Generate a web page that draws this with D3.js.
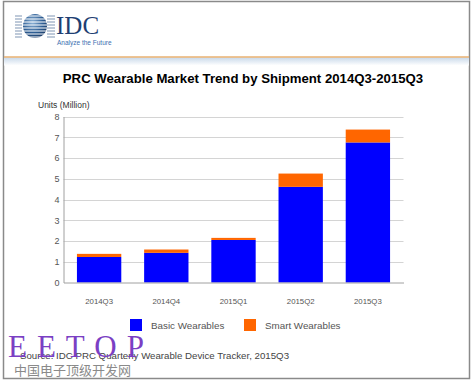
<!DOCTYPE html>
<html><head><meta charset="utf-8">
<script src="https://cdn.jsdelivr.net/npm/d3@7"></script>
<style>body{margin:0;background:#fff}svg{display:block}</style>
</head><body>
<script>
const categories = ["2014Q3","2014Q4","2015Q1","2015Q2","2015Q3"];
const basicWearables = [1.23, 1.43, 2.05, 4.61, 6.75];
const smartWearables = [0.15, 0.16, 0.10, 0.64, 0.62];
const seriesNames = ["Basic Wearables","Smart Wearables"];
const seriesColors = ["#0000ff","#ff6600"];
const yTicks = [0,1,2,3,4,5,6,7,8];

(function(){
const W=475,H=382;
const svg=d3.select("body").append("svg").attr("width",W).attr("height",H);

const defs=svg.append("defs");
const g1=defs.append("linearGradient").attr("id","band").attr("x1",0).attr("y1",0).attr("x2",0).attr("y2",1);
g1.append("stop").attr("offset","0").attr("stop-color","#c9d9ea");
g1.append("stop").attr("offset","1").attr("stop-color","#ffffff");
const g2=defs.append("radialGradient").attr("id","globe").attr("cx","0.4").attr("cy","0.35").attr("r","0.7");
g2.append("stop").attr("offset","0").attr("stop-color","#8fb4d8");
g2.append("stop").attr("offset","0.6").attr("stop-color","#2f5f95");
g2.append("stop").attr("offset","1").attr("stop-color","#1c3b66");

svg.append("rect").attr("x",3.5).attr("y",1.5).attr("width",466).attr("height",377).attr("fill","#fff").attr("stroke","#8a8a8a").attr("stroke-width",1.5);
svg.append("rect").attr("x",4).attr("y",57.5).attr("width",465).attr("height",8).attr("fill","url(#band)");
svg.append("line").attr("x1",4).attr("x2",469).attr("y1",57).attr("y2",57).attr("stroke","#e8b070").attr("stroke-width",1.5);

const logo=svg.append("g");
logo.append("circle").attr("cx",35).attr("cy",26).attr("r",12).attr("fill","url(#globe)");
const stripes=[16,19,22,25,28,31,34,37];
logo.selectAll("line.s").data(stripes).join("line").attr("x1",17).attr("x2",53)
 .attr("y1",d=>d).attr("y2",d=>d).attr("stroke","#fff").attr("stroke-width",1.2);
logo.selectAll("line.t").data(stripes).join("line").attr("x1",15).attr("x2",22).attr("y1",d=>d).attr("y2",d=>d).attr("stroke","#7e95b3").attr("stroke-width",1);
logo.selectAll("line.u").data(stripes).join("line").attr("x1",47).attr("x2",55).attr("y1",d=>d).attr("y2",d=>d).attr("stroke","#7e95b3").attr("stroke-width",1);
svg.append("text").attr("x",56).attr("y",34).text("IDC").attr("font-family","Liberation Serif, serif").attr("font-size",25).attr("fill","#1f3f73");
svg.append("text").attr("x",57).attr("y",45).text("Analyze the Future").attr("font-family","Liberation Sans, Arial, sans-serif").attr("font-size",6.5).attr("fill","#3c6fb0");

svg.append("text").attr("x",243).attr("y",83).attr("text-anchor","middle").text("PRC Wearable Market Trend by Shipment 2014Q3-2015Q3")
 .attr("font-family","Liberation Sans, Arial, sans-serif").attr("font-weight","bold").attr("font-size",13.2).attr("fill","#000");

const pl=63.5,pr=403.5,pt=116.5,pb=282.5;
const x=d3.scaleBand().domain(categories).range([pl,pr]).paddingInner(0.34).paddingOuter(0.2);
const y=d3.scaleLinear().domain([0,8]).range([pb,pt]);

const grid=svg.append("g");
grid.selectAll("line").data(yTicks.filter(d=>d>0)).join("line")
 .attr("x1",pl).attr("x2",pr).attr("y1",d=>Math.round(y(d))+0.5).attr("y2",d=>Math.round(y(d))+0.5)
 .attr("stroke","#d4d4d4").attr("stroke-width",1);

const yAxis=svg.append("g").attr("transform",`translate(${pl},0)`)
 .call(d3.axisLeft(y).tickValues(yTicks).tickSize(0).tickPadding(4));
yAxis.select(".domain").attr("stroke","#a0a0a0");
yAxis.selectAll("text").attr("font-family","Liberation Sans, Arial, sans-serif").attr("font-size",9).attr("fill","#555");

const stack=d3.stack().keys([0,1]).value((d,k)=>d[k+1]);
const rows=categories.map((c,i)=>[c,basicWearables[i],smartWearables[i]]);
const layers=stack(rows);
svg.append("g").selectAll("g").data(layers).join("g").attr("fill",(d,i)=>seriesColors[i])
 .selectAll("rect").data(d=>d).join("rect")
 .attr("x",d=>x(d.data[0])).attr("width",x.bandwidth())
 .attr("y",d=>y(d[1])).attr("height",d=>y(d[0])-y(d[1]));

const xAxis=svg.append("g").attr("transform",`translate(0,${pb})`)
 .call(d3.axisBottom(x).tickSize(0).tickPadding(16));
xAxis.select(".domain").attr("stroke","#a0a0a0");
xAxis.selectAll("text").attr("font-family","Liberation Sans, Arial, sans-serif").attr("font-size",7.8).attr("fill","#555");

svg.append("text").attr("x",38).attr("y",108).text("Units (Million)")
 .attr("font-family","Liberation Sans, Arial, sans-serif").attr("font-size",8.5).attr("fill","#333");

const legX=[130,244];
const leg=svg.append("g").selectAll("g").data(seriesNames).join("g").attr("transform",(d,i)=>`translate(${legX[i]},319)`);
leg.append("rect").attr("width",12).attr("height",12).attr("fill",(d,i)=>seriesColors[i]);
leg.append("text").attr("x",21).attr("y",10).text(d=>d).attr("font-family","Liberation Sans, Arial, sans-serif").attr("font-size",9.8).attr("fill","#555");

svg.append("text").attr("x",20).attr("y",359).text("Source: IDC PRC Quarterly Wearable Device Tracker, 2015Q3")
 .attr("font-family","Liberation Sans, Arial, sans-serif").attr("font-size",9.7).attr("fill","#444");
svg.append("text").attr("x",8).attr("y",357).text("EETOP").attr("font-family","Liberation Serif, serif").attr("font-size",31)
 .attr("letter-spacing",10).attr("fill","#7b3fc4");
svg.append("text").attr("x",14).attr("y",375).text("中国电子顶级开发网").attr("font-family","Noto Sans CJK SC, sans-serif").attr("font-size",13).attr("fill","#8a8a8a");
})();
</script>
</body></html>
